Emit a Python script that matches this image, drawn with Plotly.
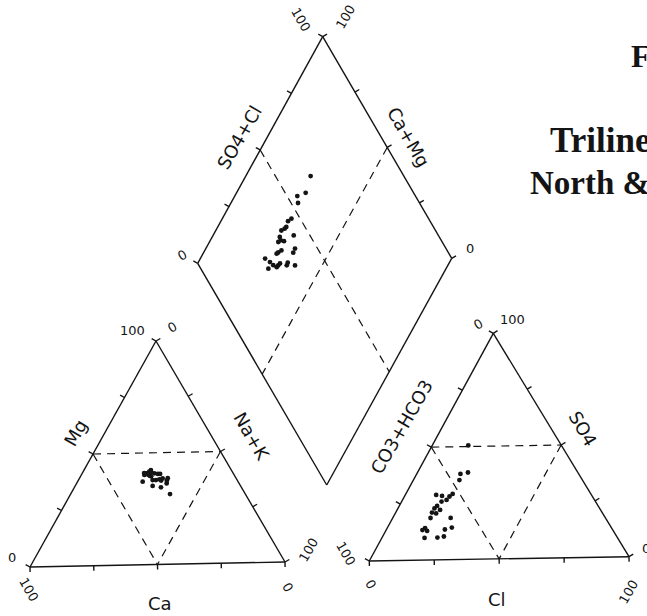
import plotly.graph_objects as go

# ---------------- sample compositions (% of meq/L) ----------------
# cation triangle
cat_nak = [25.0, 25.3, 25.8, 26.2, 26.7, 27.5, 26.5, 28.6, 30.1, 31.0, 25.8, 29.4, 30.7,
           31.9, 32.9, 35.0, 35.2, 35.7, 30.7, 34.3, 39.4, 24.5, 27.0, 28.0, 33.0]
cat_mg = [40.2, 40.9, 40.9, 41.6, 40.1, 39.7, 42.3, 40.8, 40.5, 40.5, 37.2, 37.8, 37.8,
          38.1, 37.5, 38.5, 37.4, 36.2, 35.2, 34.5, 31.4, 41.0, 41.5, 39.5, 38.5]
cat_ca = [round(100 - n - m, 1) for n, m in zip(cat_nak, cat_mg)]

# anion triangle
an_cl = [14.0, 19.6, 17.0, 17.9, 12.0, 14.5, 17.1, 17.5, 18.2, 15.5, 14.7, 14.2, 14.1,
         16.7, 15.9, 14.7, 22.5, 14.7, 14.1, 16.1, 22.7, 25.0, 16.6, 21.5, 23.8]
an_so4 = [50.5, 38.5, 37.9, 35.2, 28.8, 28.3, 26.5, 28.0, 29.1, 25.8, 23.9, 22.8, 21.0,
          22.1, 20.6, 18.6, 18.5, 14.2, 13.3, 12.9, 13.4, 14.2, 9.8, 9.9, 10.3]
an_hco3 = [round(100 - c - s, 1) for c, s in zip(an_cl, an_so4)]

# central diamond
dia_so4cl = [63.7, 58.0, 54.0, 52.7, 46.6, 44.7, 42.7, 41.7, 40.0, 43.7, 37.9, 37.5, 38.6,
             36.2, 41.2, 39.6, 35.5, 33.8, 32.9, 27.3, 28.4, 29.0, 26.3, 30.9, 32.0, 35.2,
             34.2, 37.4, 29.9]
dia_camg = [74.2, 72.5, 75.1, 73.3, 72.5, 73.3, 72.7, 73.0, 73.9, 67.9, 73.1, 72.0, 70.5,
            72.6, 64.5, 64.3, 69.5, 70.3, 70.7, 74.2, 71.5, 69.5, 70.7, 67.5, 67.2, 64.3,
            64.1, 60.8, 67.7]

tick_steps = [0, 25, 50, 75, 100]

# ---------------- drawing geometry (page pixels) ----------------
W, H = 647, 616
CAT_CA, CAT_NAK, CAT_MG = (30.0, 567.0), (285.0, 562.0), (156.0, 341.0)
AN_HCO3, AN_CL, AN_SO4 = (369.3, 561.0), (629.0, 556.7), (493.3, 333.3)
D_BOT, D_RIGHT, D_LEFT = (326.7, 485.0), (451.7, 258.3), (197.7, 263.3)
D_TOP = (D_RIGHT[0] + D_LEFT[0] - D_BOT[0], D_RIGHT[1] + D_LEFT[1] - D_BOT[1])

INK = "#141414"
TICK = 5.0


def lerp(p, q, t):
    return (p[0] + t * (q[0] - p[0]), p[1] + t * (q[1] - p[1]))


def tri_xy(a, b, c, fb, fc):
    return (a[0] + fb * (b[0] - a[0]) + fc * (c[0] - a[0]),
            a[1] + fb * (b[1] - a[1]) + fc * (c[1] - a[1]))


def add_seg(xs, ys, p, q):
    xs += [p[0], q[0], None]
    ys += [p[1], q[1], None]


def edge_ticks(xs, ys, p, q, centre):
    dx, dy = q[0] - p[0], q[1] - p[1]
    ln = (dx * dx + dy * dy) ** 0.5
    nx, ny = -dy / ln, dx / ln
    mid = lerp(p, q, 0.5)
    if (mid[0] - centre[0]) * nx + (mid[1] - centre[1]) * ny < 0:
        nx, ny = -nx, -ny
    for t in tick_steps:
        s = lerp(p, q, t / 100)
        add_seg(xs, ys, s, (s[0] + TICK * nx, s[1] + TICK * ny))


solid_x, solid_y, dash_x, dash_y = [], [], [], []

# triangles: frame, ticks, inner dashed triangle
for a, b, c in [(CAT_CA, CAT_NAK, CAT_MG), (AN_HCO3, AN_CL, AN_SO4)]:
    cen = ((a[0] + b[0] + c[0]) / 3, (a[1] + b[1] + c[1]) / 3)
    for p, q in [(a, b), (b, c), (c, a)]:
        add_seg(solid_x, solid_y, p, q)
        edge_ticks(solid_x, solid_y, p, q, cen)
    m_ac, m_bc, m_ab = lerp(a, c, 0.5), lerp(b, c, 0.5), lerp(a, b, 0.5)
    for p, q in [(m_ac, m_bc), (m_ac, m_ab), (m_bc, m_ab)]:
        add_seg(dash_x, dash_y, p, q)

# diamond
dcen = lerp(D_TOP, D_BOT, 0.5)
for p, q in [(D_LEFT, D_TOP), (D_TOP, D_RIGHT), (D_RIGHT, D_BOT), (D_BOT, D_LEFT)]:
    add_seg(solid_x, solid_y, p, q)
edge_ticks(solid_x, solid_y, D_LEFT, D_TOP, dcen)
edge_ticks(solid_x, solid_y, D_TOP, D_RIGHT, dcen)
add_seg(dash_x, dash_y, lerp(D_LEFT, D_TOP, 0.5), lerp(D_RIGHT, D_BOT, 0.5))
add_seg(dash_x, dash_y, lerp(D_TOP, D_RIGHT, 0.5), lerp(D_BOT, D_LEFT, 0.5))

# sample positions
cx, cy = zip(*[tri_xy(CAT_CA, CAT_NAK, CAT_MG, n / 100, m / 100)
               for n, m in zip(cat_nak, cat_mg)])
ax_, ay_ = zip(*[tri_xy(AN_HCO3, AN_CL, AN_SO4, c / 100, s / 100)
                 for c, s in zip(an_cl, an_so4)])
dx_, dy_ = zip(*[tri_xy(D_BOT, D_RIGHT, D_LEFT, s / 100, m / 100)
                 for s, m in zip(dia_so4cl, dia_camg)])

fig = go.Figure()
fig.add_trace(go.Scatter(x=solid_x, y=solid_y, mode="lines",
                         line=dict(color=INK, width=1.4), hoverinfo="skip"))
fig.add_trace(go.Scatter(x=dash_x, y=dash_y, mode="lines",
                         line=dict(color=INK, width=1.2, dash="8px,6px"), hoverinfo="skip"))
for xs, ys in [(cx, cy), (ax_, ay_), (dx_, dy_)]:
    fig.add_trace(go.Scatter(x=list(xs), y=list(ys), mode="markers",
                             marker=dict(color=INK, size=4.8, line=dict(width=0)),
                             hoverinfo="skip"))

SANS = "DejaVu Sans ExtraLight, DejaVu Sans"
annots = []


def label(x, y, text, size=18, angle=0, family=SANS, bold=False, xanchor="center"):
    t = f"<b>{text}</b>" if bold else text
    annots.append(dict(x=x, y=y, xref="x", yref="y", text=t, showarrow=False,
                       textangle=angle, xanchor=xanchor, yanchor="middle",
                       font=dict(family=family, size=size, color=INK)))


NUM = 13
# cation triangle labels
label(160, 603, "Ca")
label(75, 433, "Mg", angle=-60)
label(252, 436, "Na+K", angle=60)
label(132, 330, "100", NUM)
label(172, 327, "0", NUM, -30)
label(12, 557, "0", NUM)
label(29, 589, "100", NUM, 60)
label(288, 587, "0", NUM, 60)
label(308, 550, "100", NUM, -60)

# anion triangle labels
label(497, 599, "Cl")
label(401, 427, "CO3+HCO3", angle=-60)
label(583, 428, "SO4", angle=60)
label(478, 324, "0", NUM, -30)
label(512, 319, "100", NUM)
label(346, 553, "100", NUM, 60)
label(371, 584, "0", NUM, 60)
label(628, 592, "100", NUM, -60)
label(646, 548, "0", NUM)

# diamond labels
label(239, 137, "SO4+Cl", angle=-60)
label(409, 137, "Ca+Mg", angle=60)
label(301, 19, "100", NUM, 60)
label(345, 17, "100", NUM, -60)
label(182, 255, "0", NUM, -30)
label(470, 248, "0", NUM)

# heading
SERIF = "Liberation Serif"
label(629, 56, "Figure", 32, family=SERIF, bold=True, xanchor="left")
label(548, 140, "Trilinear", 35, family=SERIF, bold=True, xanchor="left")
label(528, 183, "North &", 33, family=SERIF, bold=True, xanchor="left")

fig.update_layout(
    width=W, height=H, margin=dict(l=0, r=0, t=0, b=0),
    paper_bgcolor="white", plot_bgcolor="white", showlegend=False,
    xaxis=dict(range=[0, W], visible=False, fixedrange=True),
    yaxis=dict(range=[H, 0], visible=False, fixedrange=True),
    annotations=annots,
)
fig.write_html("out.html")
